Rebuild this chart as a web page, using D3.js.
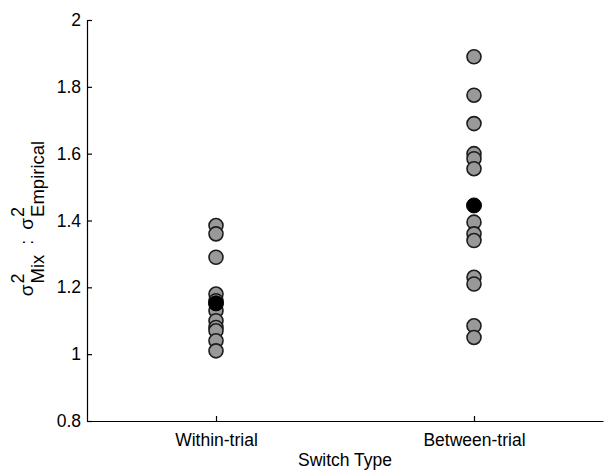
<!DOCTYPE html>
<html>
<head>
<meta charset="utf-8">
<script src="https://cdn.jsdelivr.net/npm/d3@7"></script>
<style>
  html, body { margin: 0; padding: 0; background: #fff; }
  svg { display: block; }
  text { font-family: "Liberation Sans", Arial, Helvetica, sans-serif; fill: #000; white-space: pre; }
</style>
</head>
<body>
<svg id="chart" width="613" height="470"></svg>
<script>
const categories = ["Within-trial", "Between-trial"];
const withinValues = [1.385, 1.36, 1.29, 1.18, 1.16, 1.13, 1.10, 1.08, 1.07, 1.04, 1.01];
const betweenValues = [1.89, 1.775, 1.69, 1.60, 1.585, 1.555, 1.395, 1.36, 1.34, 1.23, 1.21, 1.085, 1.05];
const meanValues = [1.152, 1.445];
const yTicks = [0.8, 1, 1.2, 1.4, 1.6, 1.8, 2];
const xLabel = "Switch Type";

const svg = d3.select("#chart");
const fontSize = 17.5;

const x = d3.scaleLinear().domain([0.5, 2.5]).range([87, 603]);
const y = d3.scaleLinear().domain([0.8, 2]).range([421, 20]);

// Axes
const yAxis = d3.axisLeft(y).tickValues(yTicks).tickFormat(d => String(d))
  .tickSizeInner(-5).tickSizeOuter(0).tickPadding(6);
const gy = svg.append("g").attr("transform", `translate(${x.range()[0]},0)`).call(yAxis);

const xAxis = d3.axisBottom(x).tickValues([1, 2]).tickFormat((d, i) => categories[i])
  .tickSizeInner(-5).tickSizeOuter(0).tickPadding(13);
const gx = svg.append("g").attr("transform", `translate(0,${y.range()[0]})`).call(xAxis);

[gx, gy].forEach(g => {
  g.select(".domain").attr("stroke", "#000").attr("stroke-width", 1.2);
  g.selectAll(".tick line").attr("stroke", "#000").attr("stroke-width", 1.2);
  g.selectAll(".tick text").attr("font-size", fontSize)
    .attr("font-family", '"Liberation Sans", Arial, sans-serif').attr("fill", "#000");
});

// Points
const series = [withinValues, betweenValues];
const pts = [];
series.forEach((vals, i) => vals.forEach(v => pts.push({ cat: i + 1, v })));

svg.append("g").selectAll("circle.pt").data(pts).join("circle")
  .attr("class", "pt")
  .attr("cx", d => x(d.cat))
  .attr("cy", d => y(d.v))
  .attr("r", 7)
  .attr("fill", "#999999")
  .attr("stroke", "#1c1c1c")
  .attr("stroke-width", 1.6);

svg.append("g").selectAll("circle.mean").data(meanValues).join("circle")
  .attr("class", "mean")
  .attr("cx", (d, i) => x(i + 1))
  .attr("cy", d => y(d))
  .attr("r", 7.5)
  .attr("fill", "#000")
  .attr("stroke", "#000")
  .attr("stroke-width", 1);

// X label
svg.append("text")
  .attr("x", (x(1) + x(2)) / 2)
  .attr("y", 466)
  .attr("text-anchor", "middle")
  .attr("font-size", fontSize)
  .text(xLabel);

// Y label: σ^2_Mix : σ^2_Empirical (stacked super/sub)
const gl = svg.append("g").attr("transform", `translate(33,${(y.range()[0] + y.range()[1]) / 2 - 2}) rotate(-90)`);
function addText(str, size, dy) {
  return gl.append("text").attr("font-size", size).attr("y", dy).text(str);
}
let cursor = 0;
function sigmaGroup(sub) {
  const s = addText("σ", 19, 0).attr("x", cursor);
  cursor += s.node().getComputedTextLength() + 1;
  const sup = addText("2", 18, -9).attr("x", cursor);
  const sb = addText(sub, 18.5, 11).attr("x", cursor);
  cursor += Math.max(sup.node().getComputedTextLength(), sb.node().getComputedTextLength());
}
sigmaGroup("Mix");
const col = addText("\u00a0\u00a0:\u00a0\u00a0", 18, 0).attr("x", cursor);
cursor += col.node().getComputedTextLength();
sigmaGroup("Empirical");
gl.selectAll("text").attr("transform", `translate(${-cursor / 2},0)`);
</script>
</body>
</html>
